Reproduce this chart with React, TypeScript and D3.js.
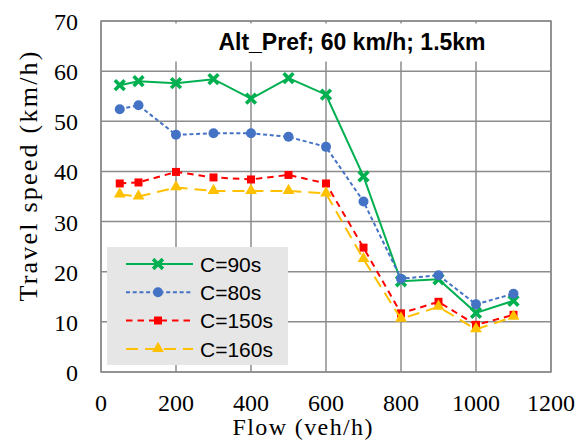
import React from "react";
import * as d3 from "d3";

const flows = [50, 100, 200, 300, 400, 500, 600, 700, 800, 900, 1000, 1100];
const c90 = [57.2, 58.0, 57.6, 58.4, 54.5, 58.6, 55.3, 39.0, 18.1, 18.5, 11.8, 14.2];
const c80 = [52.4, 53.2, 47.3, 47.6, 47.6, 46.9, 44.9, 34.0, 18.6, 19.3, 13.5, 15.6];
const c150 = [37.6, 37.8, 39.9, 38.8, 38.4, 39.3, 37.6, 24.8, 11.7, 14.0, 9.4, 11.4];
const c160 = [35.4, 35.0, 36.8, 36.1, 36.1, 36.1, 35.6, 22.5, 10.6, 13.0, 8.5, 11.0];
const seriesNames = ["C=90s", "C=80s", "C=150s", "C=160s"];
const xTicks = [0, 200, 400, 600, 800, 1000, 1200];
const yTicks = [0, 10, 20, 30, 40, 50, 60, 70];
const chartTitle = "Alt_Pref; 60 km/h; 1.5km";

const W = 586, H = 444;
const L = 101, R = 551, T = 21, B = 372;
const GRID = "#8c8c8c";

type Style = { color: string; dash: string; marker: string };
const styles: Style[] = [
  { color: "#00B050", dash: "", marker: "x" },
  { color: "#4472C4", dash: "4 2.7", marker: "circle" },
  { color: "#FF0000", dash: "6.5 5", marker: "square" },
  { color: "#FFC000", dash: "12 7", marker: "triangle" },
];

function Marker({ type, cx, cy, color }: { type: string; cx: number; cy: number; color: string }) {
  if (type === "x") {
    const s = 3.6;
    return (
      <path
        d={`M${cx - s},${cy - s}L${cx + s},${cy + s}M${cx - s},${cy + s}L${cx + s},${cy - s}`}
        stroke={color}
        strokeWidth={3.6}
        strokeLinecap="square"
        fill="none"
      />
    );
  }
  if (type === "circle") return <circle cx={cx} cy={cy} r={5} fill={color} />;
  if (type === "square") return <rect x={cx - 4} y={cy - 4} width={8} height={8} fill={color} />;
  const sym = d3.symbol(d3.symbolTriangle, 60)();
  return <path d={sym as string} transform={`translate(${cx},${cy - 0.5})`} fill={color} />;
}

export default function App() {
  const x = d3.scaleLinear().domain([0, 1200]).range([L, R]);
  const y = d3.scaleLinear().domain([0, 70]).range([B, T]);
  const data = [c90, c80, c150, c160];
  const line = d3
    .line<number>()
    .x((_, i) => x(flows[i]))
    .y((d) => y(d));

  const legX = 107, legY = 247, legW = 181, legH = 118;
  const legRowY = [264, 292.3, 320.5, 349];

  return (
    <div style={{ position: "fixed", left: 0, top: 0 }}>
      <svg width={W} height={H} style={{ display: "block", background: "#fff" }}>
        <rect x={0} y={0} width={W} height={H} fill="#fff" />
        {/* grid */}
        {xTicks.map((t) => (
          <line key={"gx" + t} x1={x(t)} x2={x(t)} y1={T} y2={B} stroke={GRID} strokeWidth={1.5} />
        ))}
        {yTicks.map((t) => (
          <line key={"gy" + t} x1={L} x2={R} y1={y(t)} y2={y(t)} stroke={GRID} strokeWidth={1.5} />
        ))}
        {/* title box */}
        <rect x={150} y={23.5} width={398} height={38} fill="#fff" />
        <text
          x={352}
          y={50}
          textAnchor="middle"
          fontFamily="Liberation Sans, Arial, sans-serif"
          fontWeight="bold"
          fontSize={23}
          fill="#000"
        >
          {chartTitle}
        </text>
        {/* frame */}
        <rect x={L} y={T} width={R - L} height={B - T} fill="none" stroke={GRID} strokeWidth={1.5} />
        {/* legend */}
        <rect x={legX} y={legY} width={legW} height={legH} fill="#e6e6e6" />
        {seriesNames.map((name, i) => (
          <g key={name}>
            <line
              x1={126}
              x2={193}
              y1={legRowY[i]}
              y2={legRowY[i]}
              stroke={styles[i].color}
              strokeWidth={2}
              strokeDasharray={styles[i].dash}
            />
            <Marker type={styles[i].marker} cx={158} cy={legRowY[i]} color={styles[i].color} />
            <text
              x={200}
              y={legRowY[i] + 7.5}
              fontFamily="Liberation Sans, Arial, sans-serif"
              fontSize={21}
              fill="#000"
            >
              {name}
            </text>
          </g>
        ))}
        {/* series */}
        {data.map((vals, si) => (
          <g key={"s" + si}>
            <path
              d={line(vals) as string}
              fill="none"
              stroke={styles[si].color}
              strokeWidth={2}
              strokeDasharray={styles[si].dash}
            />
            {vals.map((v, i) => (
              <Marker key={i} type={styles[si].marker} cx={x(flows[i])} cy={y(v)} color={styles[si].color} />
            ))}
          </g>
        ))}
        {/* ticks */}
        {yTicks.map((t) => (
          <text
            key={"ty" + t}
            x={78}
            y={y(t) + 9}
            textAnchor="end"
            fontFamily="Liberation Serif, Times New Roman, serif"
            fontSize={24}
            fill="#000"
          >
            {t}
          </text>
        ))}
        {xTicks.map((t) => (
          <text
            key={"tx" + t}
            x={x(t)}
            y={411}
            textAnchor="middle"
            fontFamily="Liberation Serif, Times New Roman, serif"
            fontSize={24}
            fill="#000"
          >
            {t}
          </text>
        ))}
        {/* axis titles */}
        <text
          x={302.5}
          y={435}
          textAnchor="middle"
          fontFamily="Liberation Serif, Times New Roman, serif"
          fontSize={24}
          textLength={140}
          lengthAdjust="spacing"
          fill="#000"
        >
          Flow (veh/h)
        </text>
        <text
          transform="translate(37,176.5) rotate(-90)"
          textAnchor="middle"
          fontFamily="Liberation Serif, Times New Roman, serif"
          fontSize={26}
          textLength={250}
          lengthAdjust="spacing"
          fill="#000"
        >
          Travel speed (km/h)
        </text>
      </svg>
    </div>
  );
}
